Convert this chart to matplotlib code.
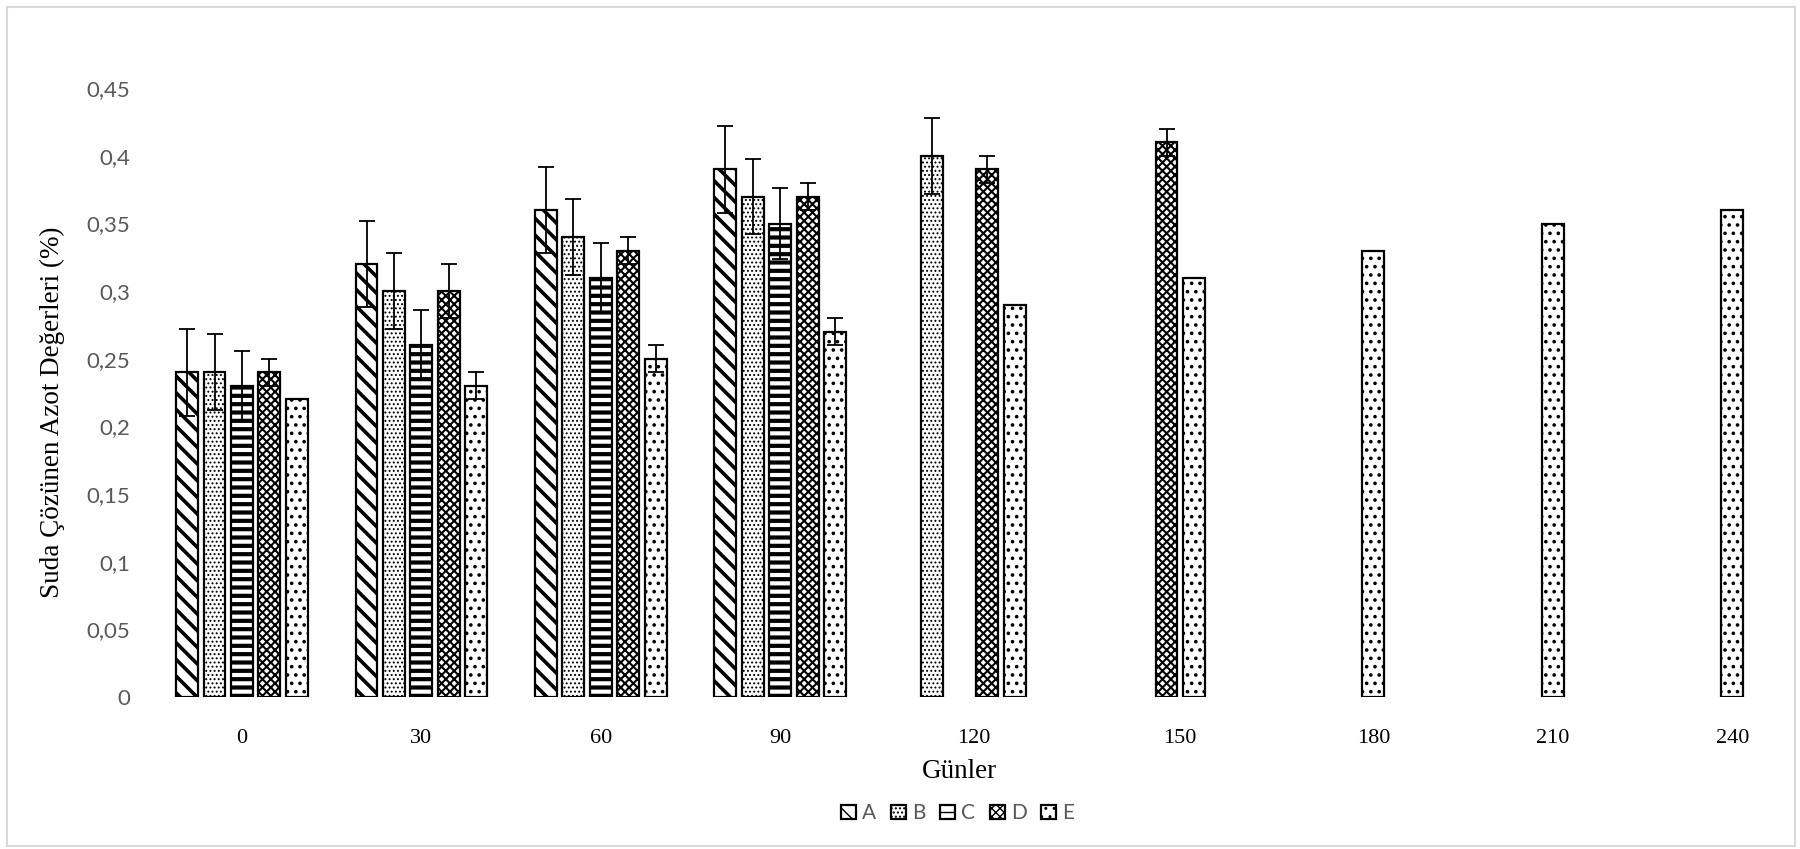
import numpy as np
import matplotlib
matplotlib.use("Agg")
import matplotlib.pyplot as plt
from matplotlib.patches import Rectangle, Patch

# ---- data ----
days = ["0", "30", "60", "90", "120", "150", "180", "210", "240"]
series = ["A", "B", "C", "D", "E"]
nan = np.nan
val_a = [0.24, 0.32, 0.36, 0.39, nan, nan, nan, nan, nan]
val_b = [0.24, 0.30, 0.34, 0.37, 0.40, nan, nan, nan, nan]
val_c = [0.23, 0.26, 0.31, 0.35, nan, nan, nan, nan, nan]
val_d = [0.24, 0.30, 0.33, 0.37, 0.39, 0.41, nan, nan, nan]
val_e = [0.22, 0.23, 0.25, 0.27, 0.29, 0.31, 0.33, 0.35, 0.36]
err_a = [0.032, 0.032, 0.032, 0.032, nan, nan, nan, nan, nan]
err_b = [0.028, 0.028, 0.028, 0.028, 0.028, nan, nan, nan, nan]
err_c = [0.026, 0.026, 0.026, 0.026, nan, nan, nan, nan, nan]
err_d = [0.01, 0.02, 0.01, 0.01, 0.01, 0.01, nan, nan, nan]
err_e = [nan, 0.01, 0.01, 0.01, nan, nan, nan, nan, nan]

values = [val_a, val_b, val_c, val_d, val_e]
errors = [err_a, err_b, err_c, err_d, err_e]
hatches = ["\\\\", "....", "--", "xxxx", ".."]
hatch_lw = [2.6, 0.9, 3.0, 1.5, 1.4]

SERIF = ["Liberation Serif", "DejaVu Serif"]
SANS = ["Lato", "DejaVu Sans"]
GREY = "#595959"

fig = plt.figure(figsize=(18, 8.49), dpi=100)
ax = fig.add_axes([0.0846, 0.179, 0.8971, 0.717])

slot = 0.153
width = 0.122
x = np.arange(len(days))

for j, (vals, errs) in enumerate(zip(values, errors)):
    vals = np.array(vals)
    errs = np.array(errs)
    ok = ~np.isnan(vals)
    xs = x[ok] + (j - 2) * slot
    bars = ax.bar(xs, vals[ok], width=width, color="white", edgecolor="black",
                  linewidth=1.6, hatch=hatches[j], zorder=2)
    for b in bars:
        if hasattr(b, "set_hatch_linewidth"):
            b.set_hatch_linewidth(hatch_lw[j])
    eok = ok & ~np.isnan(errs)
    if eok.any():
        ax.errorbar(x[eok] + (j - 2) * slot, vals[eok], yerr=errs[eok], fmt="none",
                    ecolor="black", elinewidth=1.3, capsize=6, capthick=1.3, zorder=3)

# category labels sit in the middle of the bars present in each group
tick_pos = []
for i in range(len(days)):
    present = [j for j in range(len(series)) if not np.isnan(values[j][i])]
    tick_pos.append(i + (min(present) + max(present)) / 2 * slot - 2 * slot)
ax.set_xticks(tick_pos)
ax.set_xticklabels(days, fontfamily=SERIF, fontsize=16, color="black")
ax.tick_params(axis="x", length=0, pad=23)

yt = np.arange(0, 0.451, 0.05)
ax.set_yticks(yt)
ax.set_yticklabels(["0"] + [f"{v:.2f}".rstrip("0").replace(".", ",") for v in yt[1:]],
                   fontfamily=SANS, fontsize=16, color=GREY)
ax.tick_params(axis="y", length=0, pad=16)

ax.set_xlim(-0.5, len(days) - 0.5)
ax.set_ylim(0, 0.45)
for s in ax.spines.values():
    s.set_visible(False)

ax.set_xlabel("Günler", fontfamily=SERIF, fontsize=19.5, labelpad=8)
ax.set_ylabel("Suda Çözünen Azot Değerleri (%)", fontfamily=SERIF, fontsize=19.5)
ax.yaxis.set_label_coords(-0.054, 0.468)

handles = []
for j, name in enumerate(series):
    p = Patch(facecolor="white", edgecolor="black", hatch=hatches[j], linewidth=1.6, label=name)
    handles.append(p)
leg = fig.legend(handles=handles, loc="center", bbox_to_anchor=(0.532, 0.042), ncol=5,
                 frameon=False, handlelength=0.72, handleheight=0.72, handletextpad=0.3,
                 columnspacing=0.7, prop={"family": SANS, "size": 15})
for t in leg.get_texts():
    t.set_color(GREY)

fig.patches.append(Rectangle((0.004, 0.003), 0.993, 0.989, transform=fig.transFigure,
                             fill=False, edgecolor="#d9d9d9", linewidth=1.5))

fig.savefig("out.png", dpi=100)
